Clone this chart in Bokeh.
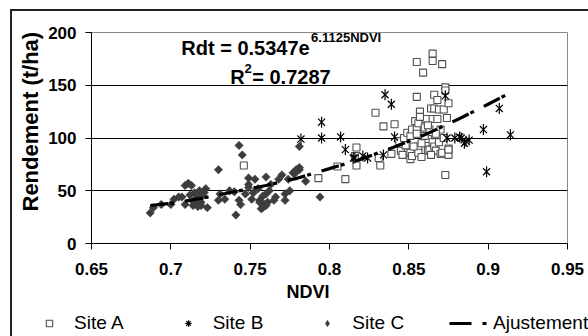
import math
from bokeh.plotting import figure
from bokeh.layouts import column
from bokeh.models import (Range1d, FixedTicker, Label, Legend, LegendItem, Title)
from bokeh.embed import file_html
from bokeh.resources import INLINE

# ---------------- data ----------------
site_a_ndvi = [0.746, 0.793, 0.805, 0.810, 0.817, 0.817, 0.816, 0.829, 0.831, 0.832,
               0.834, 0.839, 0.841, 0.844, 0.845, 0.847, 0.849, 0.851, 0.851, 0.851,
               0.852, 0.852, 0.854, 0.855, 0.855, 0.855, 0.855, 0.856, 0.856, 0.856,
               0.857, 0.859, 0.860, 0.861, 0.862, 0.862, 0.863, 0.863, 0.864, 0.865,
               0.865, 0.865, 0.865, 0.866, 0.866, 0.866, 0.867, 0.868, 0.868, 0.869,
               0.869, 0.870, 0.871, 0.871, 0.872, 0.872, 0.873, 0.873, 0.873, 0.874,
               0.875, 0.875, 0.875, 0.875, 0.858, 0.860, 0.853, 0.848, 0.857, 0.870,
               0.867, 0.862, 0.858, 0.864, 0.846]
site_a_yield = [74, 62, 73, 61, 74, 91, 83, 124, 81, 74,
                111, 85, 113, 97, 88, 100, 105, 102, 86, 80,
                83, 108, 116, 172, 139, 109, 104, 114, 92, 86,
                125, 162, 110, 118, 99, 88, 108, 89, 128, 180,
                173, 118, 96, 141, 128, 92, 88, 136, 118, 127,
                96, 85, 170, 86, 127, 100, 148, 145, 65, 119,
                133, 90, 84, 89, 95, 102, 92, 93, 120, 108,
                104, 112, 82, 84, 84]

site_b_ndvi = [0.782, 0.795, 0.795, 0.807, 0.810, 0.815, 0.816, 0.821, 0.824, 0.834,
               0.835, 0.839, 0.841, 0.873, 0.874, 0.879, 0.882, 0.883, 0.886, 0.888,
               0.885, 0.897, 0.899, 0.907, 0.914]
site_b_yield = [99, 115, 100, 101, 89, 81, 81, 83, 81, 84,
                141, 132, 101, 140, 100, 100, 101, 100, 97, 98,
                95, 108, 68, 128, 103]

site_c_ndvi = [0.687, 0.689, 0.694, 0.700, 0.702, 0.705, 0.707, 0.709, 0.711, 0.713,
               0.709, 0.712, 0.714, 0.715, 0.716, 0.717, 0.717, 0.718, 0.719, 0.720,
               0.721, 0.722, 0.723, 0.716, 0.718, 0.714, 0.719, 0.730, 0.731, 0.730,
               0.734, 0.741, 0.743, 0.745, 0.743, 0.744, 0.747, 0.749, 0.749, 0.751,
               0.752, 0.756, 0.753, 0.755, 0.756, 0.758, 0.759, 0.760, 0.762, 0.763,
               0.761, 0.765, 0.768, 0.770, 0.772, 0.772, 0.775, 0.774, 0.777, 0.778,
               0.781, 0.785, 0.781, 0.794, 0.760, 0.766, 0.758, 0.740, 0.737, 0.749,
               0.760, 0.779, 0.781, 0.757]
site_c_yield = [29, 34, 37, 37, 42, 44, 44, 55, 57, 55,
                37, 46, 40, 48, 40, 37, 35, 44, 39, 45,
                48, 52, 34, 43, 50, 36, 36, 70, 47, 41,
                42, 27, 93, 84, 41, 37, 47, 56, 53, 42,
                48, 39, 61, 52, 41, 34, 37, 47, 50, 56,
                39, 41, 61, 65, 47, 41, 50, 61, 67, 66,
                70, 59, 92, 44, 36, 44, 45, 49, 50, 62,
                63, 70, 72, 33]

trend_ndvi = [0.687, 0.70, 0.72, 0.74, 0.76, 0.78, 0.80, 0.82, 0.84, 0.86, 0.88, 0.90, 0.914]
trend_yield = [36, 38, 43, 49, 55, 62, 71, 80, 91, 103, 117, 132, 143]

x_ticks = [0.65, 0.7, 0.75, 0.8, 0.85, 0.9, 0.95]
x_tick_labels = ["0.65", "0.7", "0.75", "0.8", "0.85", "0.9", "0.95"]
y_ticks = [0, 50, 100, 150, 200]

series_labels = ["Site A", "Site B", "Site C", "Ajustement"]
eq_main = "Rdt = 0.5347e"
eq_exp = "6.1125NDVI"
r2_value = " = 0.7287"
x_title = "NDVI"
y_title = "Rendement (t/ha)"

FONT = "Liberation Sans"

# ---------------- styles ----------------
STYLE_A = dict(marker="square", size=7, fill_color="white", line_color="#505050", line_width=1.1)
STYLE_B1 = dict(marker="x", size=10, line_color="black", line_width=1.2)
STYLE_B2 = dict(marker="dash", size=11, angle=math.pi / 2, line_color="black", line_width=1.2)
STYLE_C = dict(marker="square", size=6, angle=math.pi / 4, fill_color="#3d3d3d",
               line_color="#3d3d3d", line_width=0.5)
STYLE_T = dict(line_color="black", line_width=3.2, line_dash="18 2 4 11")
# legend-glyph variants (legend glyphs ignore marker angles)
LEG_B = dict(marker="asterisk", size=11, line_color="black", line_width=1.2)
LEG_C = dict(marker="diamond", size=8, fill_color="#3d3d3d", line_color="#3d3d3d",
             line_width=0.5)
LEG_T = dict(line_color="black", line_width=3.2, line_dash="22 11 4 11")

# ---------------- main figure ----------------
p = figure(width=576, height=299, output_backend="svg", toolbar_location=None,
           x_range=Range1d(0.65, 0.95), y_range=Range1d(0, 200),
           min_border_left=78, min_border_right=21, min_border_top=21,
           min_border_bottom=67)
p.background_fill_color = "white"
p.border_fill_color = "white"
p.outline_line_color = "#8a8a8a"
p.outline_line_width = 1

p.xgrid.grid_line_color = None
p.ygrid.grid_line_color = "black"
p.ygrid.grid_line_width = 1
p.ygrid.ticker = FixedTicker(ticks=y_ticks)

p.xaxis.ticker = FixedTicker(ticks=x_ticks)
p.xaxis.major_label_overrides = {t: l for t, l in zip(x_ticks, x_tick_labels)}
p.yaxis.ticker = FixedTicker(ticks=y_ticks)

for ax in (p.xaxis[0], p.yaxis[0]):
    ax.axis_line_color = "black"
    ax.axis_line_width = 1
    ax.major_tick_line_color = "black"
    ax.major_tick_in = 0
    ax.major_tick_out = 6
    ax.minor_tick_line_color = None
    ax.major_label_text_font = FONT
    ax.major_label_text_font_style = "bold"
    ax.major_label_text_font_size = "17px"
    ax.major_label_text_color = "black"
p.xaxis.major_label_standoff = 13
p.yaxis.major_label_standoff = 9

p.scatter(site_a_ndvi, site_a_yield, **STYLE_A)
p.scatter(site_b_ndvi, site_b_yield, **STYLE_B1)
p.scatter(site_b_ndvi, site_b_yield, **STYLE_B2)
p.scatter(site_c_ndvi, site_c_yield, **STYLE_C)
p.line(trend_ndvi, trend_yield, **STYLE_T)

def add_text(x, y, txt, size):
    p.add_layout(Label(x=x, y=y, text=txt, text_font=FONT, text_font_style="bold",
                       text_font_size=size, text_color="black",
                       text_baseline="alphabetic", text_align="left"))

add_text(0.7066, 185.5, eq_main, "20px")
add_text(0.7884, 194.8, eq_exp, "13px")
add_text(0.7374, 157.5, "R", "20px")
add_text(0.7465, 166.0, "2", "13px")
add_text(0.7513, 157.5, r2_value, "20px")

yt = Title(text=y_title, align="left", offset=32, standoff=6, text_font=FONT,
           text_font_style="bold", text_font_size="22px", text_color="black")
p.add_layout(yt, "left")
xt = Title(text=x_title, align="left", offset=195, standoff=4, text_font=FONT,
           text_font_style="bold", text_font_size="18px", text_color="black")
p.add_layout(xt, "below")

# ---------------- legend strip (same series, drawn out of its view) ----------------
lg = figure(width=576, height=26, output_backend="svg", toolbar_location=None,
            x_axis_type=None, y_axis_type=None, min_border=0,
            x_range=Range1d(0, 1), y_range=Range1d(1000, 1001))
lg.outline_line_color = None
lg.grid.visible = False
lg.background_fill_color = "white"
lg.border_fill_color = "white"
la = lg.scatter(site_a_ndvi, site_a_yield, **STYLE_A)
lb = lg.scatter(site_b_ndvi, site_b_yield, **LEG_B)
lc = lg.scatter(site_c_ndvi, site_c_yield, **LEG_C)
lt = lg.line(trend_ndvi, trend_yield, **LEG_T)

aligned_off = False
for fig in (p, lg):
    if hasattr(fig, "frame_align"):
        fig.frame_align = False
        aligned_off = True

legend = Legend(items=[LegendItem(label=series_labels[0], renderers=[la]),
                       LegendItem(label=series_labels[1], renderers=[lb]),
                       LegendItem(label=series_labels[2], renderers=[lc]),
                       LegendItem(label=series_labels[3], renderers=[lt])],
                orientation="horizontal", location=(18 if aligned_off else -60, 2),
                glyph_width=38, glyph_height=16, label_standoff=6, spacing=45,
                padding=0, margin=0, border_line_alpha=0, background_fill_alpha=0,
                label_text_font=FONT, label_text_font_size="19px",
                label_text_color="black")
lg.add_layout(legend, "center")

page = column(p, lg, spacing=0)
page.styles = {"margin-left": "10px", "margin-top": "9px",
               "border-left": "2px solid #222", "border-top": "2px solid #222"}

open("out.html", "w").write(file_html(page, INLINE))
